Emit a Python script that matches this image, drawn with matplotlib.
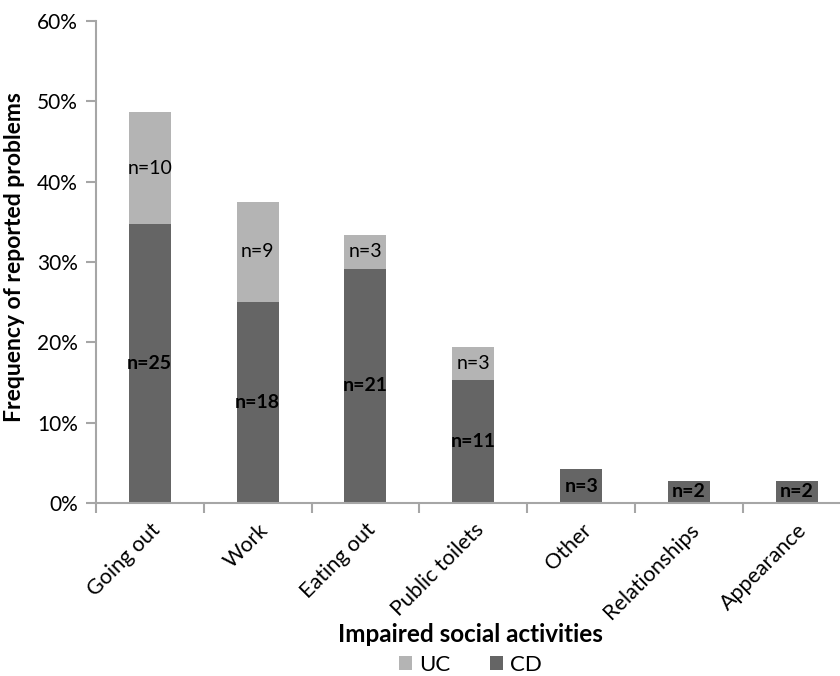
import numpy as np
import matplotlib
matplotlib.use('Agg')
import matplotlib.pyplot as plt
from matplotlib.ticker import PercentFormatter

plt.rcParams['font.family'] = ['Lato', 'DejaVu Sans']

activities = ['Going out', 'Work', 'Eating out', 'Public toilets', 'Other',
              'Relationships', 'Appearance']
nTotal = 72
cdCounts = np.array([25, 18, 21, 11, 3, 2, 2])
ucCounts = np.array([10, 9, 3, 3, 0, 0, 0])

cdPct = cdCounts / nTotal * 100
ucPct = ucCounts / nTotal * 100

darkGrey = '#656565'
lightGrey = '#b4b4b4'
axisGrey = '#a6a6a6'

fig = plt.figure(figsize=(8.4, 6.76), dpi=100)
# axes runs a little past the right edge of the figure
ax = fig.add_axes([0.114, 0.256, 0.899, 0.713])

x = np.arange(len(activities))
barW = 0.39
ax.bar(x, cdPct, barW, color=darkGrey, label='CD')
ax.bar(x, ucPct, barW, bottom=cdPct, color=lightGrey, label='UC')

for i in range(len(activities)):
    ax.text(x[i], cdPct[i] / 2, 'n=%d' % cdCounts[i], ha='center', va='center',
            fontsize=14, fontweight='bold', color='black')
    if ucCounts[i] > 0:
        ax.text(x[i], cdPct[i] + ucPct[i] / 2, 'n=%d' % ucCounts[i], ha='center',
                va='center', fontsize=14, color='black')

ax.set_xlim(-0.5, len(activities) - 0.5)
ax.set_ylim(0, 60)
ax.set_yticks(np.arange(0, 61, 10))
ax.yaxis.set_major_formatter(PercentFormatter(decimals=0))

ax.set_xticks(x)
ax.set_xticklabels(activities, rotation=45, ha='right', rotation_mode='anchor')
ax.set_xticks(np.arange(-0.5, len(activities), 1), minor=True)
ax.tick_params(axis='x', which='major', length=0, pad=12, labelsize=15.5)
ax.tick_params(axis='x', which='minor', length=7, width=1.5, color=axisGrey)
ax.tick_params(axis='y', length=7, width=1.5, color=axisGrey, labelsize=15, pad=6)

for side in ['top', 'right']:
    ax.spines[side].set_visible(False)
for side in ['left', 'bottom']:
    ax.spines[side].set_color(axisGrey)
    ax.spines[side].set_linewidth(1.5)

ax.set_ylabel('Frequency of reported problems', fontsize=16.5, fontweight='bold')
ax.yaxis.set_label_coords(-0.094, 0.51)
fig.text(0.56, 0.061, 'Impaired social activities', ha='center', va='center',
         fontsize=17.5, fontweight='bold')

handles, labels = ax.get_legend_handles_labels()
fig.legend(handles[::-1], labels[::-1], loc='center', bbox_to_anchor=(0.56, 0.016),
           ncol=2, frameon=False, fontsize=16, handlelength=0.6, handleheight=0.6,
           handletextpad=0.3, columnspacing=1.8, borderpad=0)

fig.savefig('out.png', dpi=100)
